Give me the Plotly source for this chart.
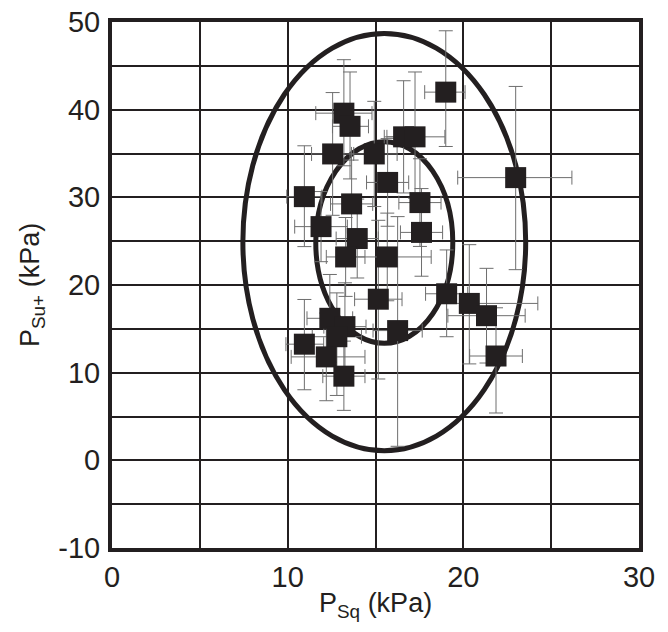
import plotly.graph_objects as go

# Data
P_SQ = [19.0, 22.98, 13.2, 13.55, 12.56, 14.93, 16.6, 17.25, 15.69, 10.95,
        13.64, 17.53, 11.9, 17.62, 13.96, 13.3, 15.67, 15.16, 19.05, 20.34,
        21.32, 21.86, 12.4, 13.26, 12.8, 10.95, 12.2, 13.2, 16.26]
P_SU = [42.0, 32.25, 39.6, 38.1, 34.95, 34.95, 36.9, 36.9, 31.7, 30.08,
        29.25, 29.4, 26.66, 26.0, 25.3, 23.2, 23.2, 18.38, 19.0, 17.9,
        16.5, 11.9, 16.2, 15.25, 14.1, 13.25, 11.8, 9.6, 14.8]
ERR_X_PLUS = [1.1, 3.2, 1.6, 1.05, 1.2, 1.3, 1.1, 1.7, 1.2, 1.0,
              1.2, 1.2, 1.5, 1.2, 1.2, 1.1, 2.5, 1.35, 1.2, 3.9,
              2.2, 1.5, 1.3, 1.2, 1.4, 1.1, 2.2, 1.2, 1.4]
ERR_X_MINUS = [1.2, 3.3, 1.6, 1.0, 1.2, 1.3, 1.1, 1.6, 1.2, 1.0,
               1.2, 1.2, 1.5, 1.2, 1.2, 1.1, 2.5, 1.35, 1.2, 1.3,
               2.2, 1.5, 1.3, 1.2, 1.4, 1.05, 2.0, 1.2, 1.4]
ERR_Y_PLUS = [7.0, 10.4, 6.1, 6.2, 7.0, 6.0, 6.4, 7.4, 5.0, 5.8,
              5.0, 5.0, 4.0, 5.0, 4.5, 4.5, 5.0, 9.0, 5.0, 6.7,
              5.4, 5.5, 5.0, 5.0, 5.0, 5.1, 5.0, 4.0, 13.0]
ERR_Y_MINUS = [6.2, 10.5, 6.0, 6.0, 7.0, 6.0, 6.4, 7.0, 5.0, 5.7,
               5.0, 5.0, 4.0, 5.0, 4.5, 4.5, 5.0, 9.1, 4.9, 6.9,
               5.4, 6.5, 5.0, 5.0, 6.7, 5.2, 5.0, 3.9, 13.2]

# Confidence ellipses: centre, semi-axes
ELL_CX = [15.5, 15.5]
ELL_CY = [24.9, 24.85]
ELL_A = [8.05, 3.9]
ELL_B = [23.8, 11.5]

X_TICKS = [0, 5, 10, 15, 20, 25, 30]
Y_TICKS = [-10, -5, 0, 5, 10, 15, 20, 25, 30, 35, 40, 45, 50]

INK = "#231f20"
FONT = "Liberation Sans, Arial, sans-serif"

fig = go.Figure()
fig.add_trace(go.Scatter(
    x=P_SQ, y=P_SU, mode="markers",
    marker=dict(symbol="square", size=21, color=INK),
    error_x=dict(type="data", array=ERR_X_PLUS, arrayminus=ERR_X_MINUS,
                 color="#6e6e6e", thickness=1, width=7),
    error_y=dict(type="data", array=ERR_Y_PLUS, arrayminus=ERR_Y_MINUS,
                 color="#6e6e6e", thickness=1, width=7),
    showlegend=False, hoverinfo="skip",
))

for cx, cy, a, b in zip(ELL_CX, ELL_CY, ELL_A, ELL_B):
    fig.add_shape(type="circle", xref="x", yref="y",
                  x0=cx - a, x1=cx + a, y0=cy - b, y1=cy + b,
                  line=dict(color=INK, width=5), layer="below")

axis_common = dict(
    showline=True, linecolor=INK, linewidth=4, mirror=True,
    showgrid=True, gridcolor=INK, gridwidth=2,
    zeroline=False, ticks="", automargin=False,
    tickfont=dict(family=FONT, size=29, color=INK),
)

fig.update_layout(
    width=668, height=632,
    paper_bgcolor="white", plot_bgcolor="white",
    margin=dict(l=112, r=29, t=22, b=84),
    font=dict(family=FONT, color=INK),
    xaxis=dict(
        **axis_common,
        range=[0, 30], tickvals=X_TICKS,
        ticktext=[str(v) if v % 10 == 0 else "" for v in X_TICKS],
        ticklabelstandoff=0,
    ),
    yaxis=dict(
        **axis_common,
        range=[-10, 50], tickvals=Y_TICKS,
        ticktext=[str(v) if v % 10 == 0 else "" for v in Y_TICKS],
        ticklabelstandoff=2,
    ),
)

# axis titles as annotations so they sit exactly where the original has them
fig.add_annotation(text="P<sub>Sq</sub> (kPa)", xref="paper", yref="paper",
                   x=0.5, y=0, xanchor="center", yanchor="middle", yshift=-57,
                   showarrow=False, font=dict(family=FONT, size=27, color=INK))
fig.add_annotation(text="P<sub>Su+</sub> (kPa)", xref="paper", yref="paper",
                   x=0, y=0.5, xanchor="center", yanchor="middle", xshift=-80,
                   textangle=-90, showarrow=False,
                   font=dict(family=FONT, size=27, color=INK))

# the page body has a default 8px margin; drop it so the figure sits at 0,0
fig.write_html("out.html", config={"displayModeBar": False},
               post_script="document.body.style.margin='0';")
